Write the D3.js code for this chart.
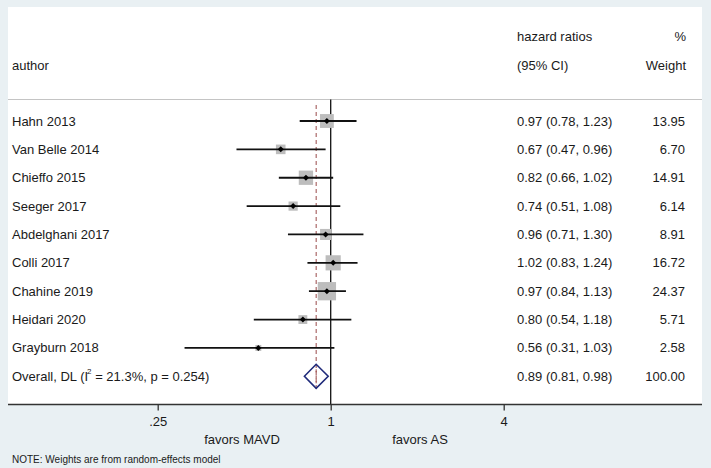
<!DOCTYPE html>
<html>
<head>
<meta charset="utf-8">
<script src="https://cdn.jsdelivr.net/npm/d3@7"></script>
<style>
  html, body { margin: 0; padding: 0; background: #e9f0f3; }
  svg { display: block; font-family: "Liberation Sans", Arial, sans-serif; }
</style>
</head>
<body>
<svg id="chart" width="711" height="468"></svg>
<script>
// ---- data ----
const authors = ["Hahn 2013", "Van Belle 2014", "Chieffo 2015", "Seeger 2017", "Abdelghani 2017",
                 "Colli 2017", "Chahine 2019", "Heidari 2020", "Grayburn 2018"];
const hr      = [0.97, 0.67, 0.82, 0.74, 0.96, 1.02, 0.97, 0.80, 0.56];
const ciLow   = [0.78, 0.47, 0.66, 0.51, 0.71, 0.83, 0.84, 0.54, 0.31];
const ciHigh  = [1.23, 0.96, 1.02, 1.08, 1.30, 1.24, 1.13, 1.18, 1.03];
const weights = [13.95, 6.70, 14.91, 6.14, 8.91, 16.72, 24.37, 5.71, 2.58];
const overallLabel = "Overall, DL";
const overall = { hr: 0.89, lo: 0.81, hi: 0.98, weight: 100.00, i2: "21.3%", p: "0.254" };
const tickValues = [0.25, 1, 4];
const tickLabels = [".25", "1", "4"];
const leftNote = "favors MAVD", rightNote = "favors AS";
const footNote = "NOTE: Weights are from random-effects model";

// ---- layout ----
const svg = d3.select("#chart");
const W = 711, H = 468;
const panel = { x0: 8, x1: 702, y0: 7, y1: 405 };
const f2 = d3.format(".2f");

svg.append("rect").attr("x", 0).attr("y", 0).attr("width", W).attr("height", H).attr("fill", "#e9f0f3");
svg.append("rect").attr("x", panel.x0).attr("y", panel.y0)
   .attr("width", panel.x1 - panel.x0).attr("height", panel.y1 - panel.y0).attr("fill", "#ffffff");

const x = d3.scaleLog().base(2).domain([0.25, 4]).range([157.7, 503.7]);
const rowKeys = authors.concat([overallLabel]);
const y = d3.scalePoint().domain(rowKeys).range([121, 376.3]);
const size = d3.scaleSqrt().domain([0, 24.37]).range([0, 18.3]);

// header
const fs = 13;
const txt = (t, xx, yy, anchor, size_) => svg.append("text").attr("x", xx).attr("y", yy)
   .attr("text-anchor", anchor || "start").attr("dominant-baseline", "central")
   .attr("font-size", size_ || fs).attr("fill", "#1a1a1a").text(t);

txt("author", 12, 65);
txt("hazard ratios", 517, 36);
txt("(95% CI)", 517, 65);
txt("%", 686, 36, "end");
txt("Weight", 686, 65, "end");

// header separator
svg.append("line").attr("x1", panel.x0).attr("x2", panel.x1).attr("y1", 99.5).attr("y2", 99.5)
   .attr("stroke", "#c4c4c4").attr("stroke-width", 1);

// null line at 1
svg.append("line").attr("x1", x(1)).attr("x2", x(1)).attr("y1", 99.5).attr("y2", panel.y1)
   .attr("stroke", "#111").attr("stroke-width", 1.3);

// overall dashed line
svg.append("line").attr("x1", x(overall.hr)).attr("x2", x(overall.hr)).attr("y1", 105).attr("y2", 391)
   .attr("stroke", "#9a4a4a").attr("stroke-width", 1).attr("stroke-dasharray", "4,3");

// study rows
const rows = authors.map((a, i) => ({ a, hr: hr[i], lo: ciLow[i], hi: ciHigh[i], w: weights[i] }));
const g = svg.append("g");
rows.forEach(d => {
  const cy = y(d.a);
  const s = size(d.w);
  g.append("rect").attr("x", x(d.hr) - s / 2).attr("y", cy - s / 2).attr("width", s).attr("height", s)
   .attr("fill", "#bdbdbd");
  g.append("line").attr("x1", x(d.lo)).attr("x2", x(d.hi)).attr("y1", cy).attr("y2", cy)
   .attr("stroke", "#111").attr("stroke-width", 1.8);
  g.append("path").attr("d", `M${x(d.hr)},${cy - 3}L${x(d.hr) + 3},${cy}L${x(d.hr)},${cy + 3}L${x(d.hr) - 3},${cy}Z`)
   .attr("fill", "#000");
  txt(d.a, 12, cy);
  txt(`${f2(d.hr)} (${f2(d.lo)}, ${f2(d.hi)})`, 517, cy);
  txt(f2(d.w), 685, cy, "end");
});

// overall row
const oy = y(overallLabel);
svg.append("path")
   .attr("d", `M${x(overall.lo)},${oy}L${x(overall.hr)},${oy - 12}L${x(overall.hi)},${oy}L${x(overall.hr)},${oy + 12}Z`)
   .attr("fill", "none").attr("stroke", "#1f2a7a").attr("stroke-width", 1.6);
svg.append("line").attr("x1", x(overall.hr)).attr("x2", x(overall.hr)).attr("y1", oy - 7).attr("y2", oy + 7)
   .attr("stroke", "#9a4a4a").attr("stroke-width", 1).attr("stroke-dasharray", "3,3");
const ot = svg.append("text").attr("x", 12).attr("y", oy).attr("dominant-baseline", "central")
   .attr("font-size", fs).attr("fill", "#1a1a1a");
ot.append("tspan").text(overallLabel + " (I");
ot.append("tspan").attr("font-size", 8).attr("dy", -5).attr("dx", -1).text("2");
ot.append("tspan").attr("dy", 5).text(` = ${overall.i2}, p = ${overall.p})`);
txt(`${f2(overall.hr)} (${f2(overall.lo)}, ${f2(overall.hi)})`, 517, oy);
txt(f2(overall.weight), 685, oy, "end");

// x axis
svg.append("line").attr("x1", panel.x0).attr("x2", panel.x1).attr("y1", 404.5).attr("y2", 404.5)
   .attr("stroke", "#333").attr("stroke-width", 1.6);
const axis = d3.axisBottom(x).tickValues(tickValues).tickFormat((d, i) => tickLabels[i])
   .tickSize(6).tickPadding(6);
const ax = svg.append("g").attr("transform", "translate(0,404.5)").call(axis);
ax.select(".domain").remove();
ax.selectAll(".tick line").attr("stroke", "#333").attr("stroke-width", 1.3);
ax.selectAll(".tick text").attr("font-size", fs).attr("fill", "#1a1a1a")
   .attr("font-family", "Liberation Sans, Arial, sans-serif");

txt(leftNote, 242, 439, "middle");
txt(rightNote, 420, 439, "middle");
txt(footNote, 12, 459, "start", 10);
</script>
</body>
</html>
